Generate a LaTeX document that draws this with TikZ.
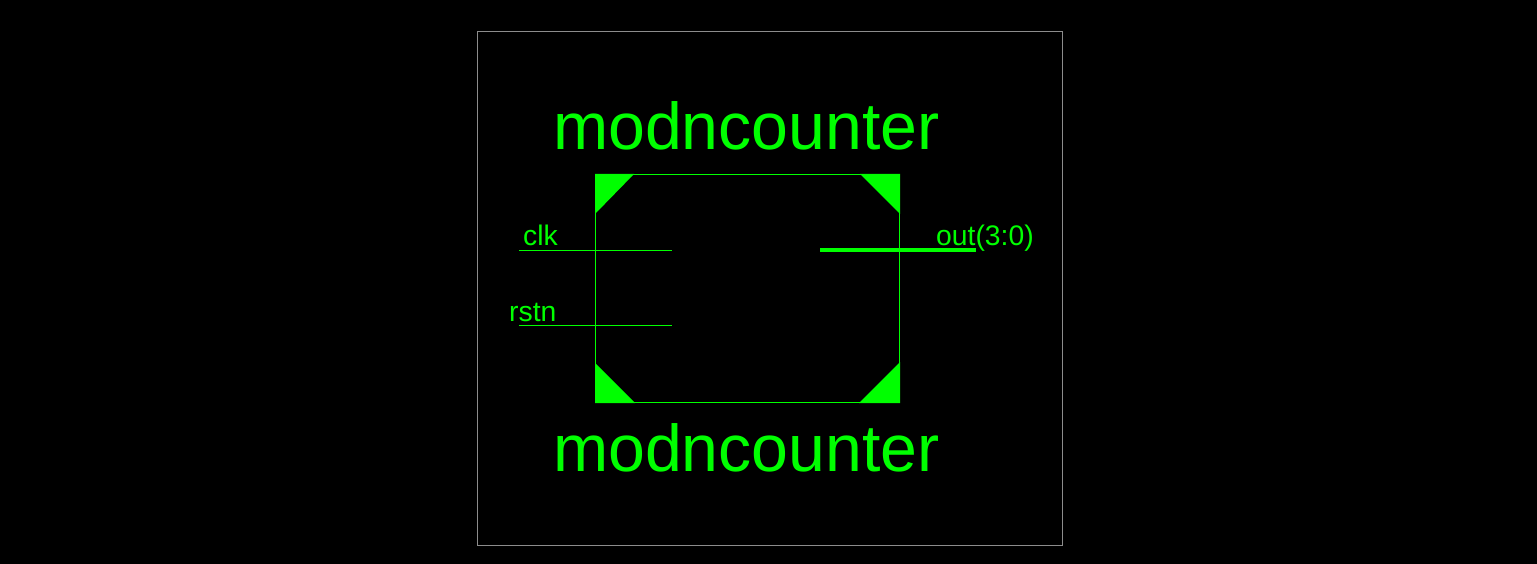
\documentclass[tikz,border=0pt]{standalone}
\usepackage{fontspec}
\setmainfont{Liberation Sans}
\definecolor{wirecol}{RGB}{0,255,0}
\definecolor{framecol}{RGB}{140,140,140}
\tikzset{
  title/.style={anchor=base west,inner sep=0pt,text=wirecol,font=\fontsize{66.2}{66}\selectfont},
  pinlabel/.style={anchor=base west,inner sep=0pt,text=wirecol,font=\fontsize{28.3}{28}\selectfont},
  wire/.style={draw=wirecol,line width=1pt},
  bus/.style={draw=wirecol,line width=4pt},
  corner/.style={fill=wirecol}
}
\begin{document}
\begin{tikzpicture}[x=1pt,y=-1pt]
      \fill[black](0,0)rectangle(1537,564);
      \useasboundingbox(0,0)rectangle(1537,564);
      \draw[framecol,line width=1pt](477.5,31.5)rectangle(1062.5,545.5);
      \draw[wire](595.5,174.5)rectangle(899.5,402.5);
      % corner marks
      \fill[corner](595,174)--(634,174)--(595,214)--cycle;
      \fill[corner](860,174)--(900,174)--(900,214)--cycle;
      \fill[corner](595,363)--(635,403)--(595,403)--cycle;
      \fill[corner](859,403)--(900,403)--(900,362)--cycle;
      \foreach \n/\x/\y in{%
        titletop/553/149.3, titlebot/553/471.3}{%
        \node[title] (\n) at(\x,\y){modncounter};
      }
      \foreach \n/\t/\x/\y in{%
        clk/clk/523/246, rstn/rstn/509/321, out/out(3:0)/936/246}{%
        \node[pinlabel] (\n) at(\x,\y){\t};
      }
      \coordinate (clka) at(519,250.5);
      \coordinate (clkb) at(672,250.5);
      \coordinate (rstna) at(519,325.5);
      \coordinate (rstnb) at(672,325.5);
      \coordinate (outa) at(820,250);
      \coordinate (outb) at(976,250);
      \draw[wire](clka)--(clkb);
      \draw[wire](rstna)--(rstnb);
      \draw[bus](outa)--(outb);
    \end{tikzpicture}
\end{document}
